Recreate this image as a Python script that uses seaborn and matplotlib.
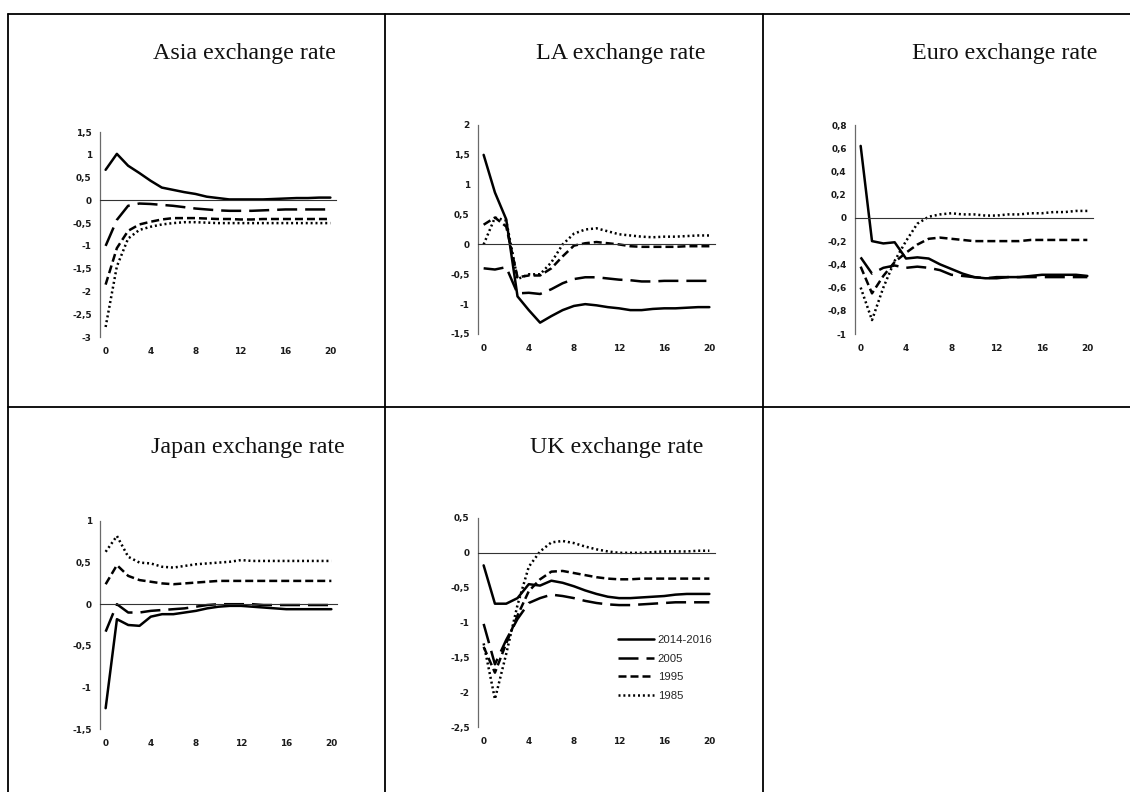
import numpy as np
import pandas as pd
import matplotlib
matplotlib.use("Agg")
import matplotlib.pyplot as plt
from matplotlib.lines import Line2D
from matplotlib.ticker import FuncFormatter
import seaborn as sns

# ---- data: impulse responses over a 0-20 quarter horizon ----
horizon = list(range(21))
vintages = ["2014-2016", "2005", "1995", "1985"]

asia_2014 = [0.67, 1.02, 0.76, 0.60, 0.43, 0.28, 0.23, 0.18, 0.14, 0.08, 0.05,
             0.02, 0.02, 0.02, 0.02, 0.03, 0.04, 0.05, 0.05, 0.06, 0.06]
asia_2005 = [-1.00, -0.43, -0.12, -0.07, -0.08, -0.10, -0.12, -0.15, -0.18, -0.20, -0.22,
             -0.23, -0.23, -0.23, -0.22, -0.21, -0.20, -0.20, -0.20, -0.20, -0.20]
asia_1995 = [-1.85, -1.05, -0.67, -0.53, -0.47, -0.42, -0.39, -0.39, -0.39, -0.40, -0.41,
             -0.41, -0.42, -0.42, -0.41, -0.41, -0.41, -0.41, -0.41, -0.41, -0.41]
asia_1985 = [-2.78, -1.45, -0.84, -0.65, -0.58, -0.53, -0.50, -0.48, -0.48, -0.49, -0.50,
             -0.50, -0.50, -0.50, -0.50, -0.50, -0.50, -0.50, -0.50, -0.50, -0.50]

la_2014 = [1.50, 0.87, 0.42, -0.87, -1.10, -1.31, -1.20, -1.10, -1.03, -1.00, -1.02,
           -1.05, -1.07, -1.10, -1.10, -1.08, -1.07, -1.07, -1.06, -1.05, -1.05]
la_2005 = [-0.40, -0.42, -0.38, -0.82, -0.81, -0.83, -0.75, -0.65, -0.58, -0.55, -0.55,
           -0.57, -0.59, -0.60, -0.62, -0.62, -0.61, -0.61, -0.61, -0.61, -0.61]
la_1995 = [0.33, 0.45, 0.30, -0.55, -0.52, -0.52, -0.40, -0.20, -0.02, 0.02, 0.04,
           0.02, 0.00, -0.03, -0.04, -0.04, -0.04, -0.04, -0.03, -0.03, -0.03]
la_1985 = [0.00, 0.45, 0.40, -0.58, -0.50, -0.50, -0.30, 0.00, 0.18, 0.25, 0.27,
           0.22, 0.17, 0.15, 0.13, 0.12, 0.13, 0.13, 0.14, 0.15, 0.15]

euro_2014 = [0.62, -0.20, -0.22, -0.21, -0.35, -0.34, -0.35, -0.40, -0.44, -0.48, -0.51,
             -0.52, -0.52, -0.51, -0.51, -0.50, -0.49, -0.49, -0.49, -0.49, -0.50]
euro_2005 = [-0.34, -0.48, -0.43, -0.41, -0.43, -0.42, -0.43, -0.45, -0.49, -0.50, -0.51,
             -0.52, -0.51, -0.51, -0.51, -0.51, -0.51, -0.51, -0.51, -0.51, -0.51]
euro_1995 = [-0.42, -0.65, -0.50, -0.38, -0.30, -0.23, -0.18, -0.17, -0.18, -0.19, -0.20,
             -0.20, -0.20, -0.20, -0.20, -0.19, -0.19, -0.19, -0.19, -0.19, -0.19]
euro_1985 = [-0.60, -0.88, -0.60, -0.37, -0.20, -0.05, 0.01, 0.03, 0.04, 0.03, 0.03,
             0.02, 0.02, 0.03, 0.03, 0.04, 0.04, 0.05, 0.05, 0.06, 0.06]

japan_2014 = [-1.25, -0.18, -0.25, -0.26, -0.15, -0.12, -0.12, -0.10, -0.08, -0.05, -0.03,
              -0.02, -0.02, -0.03, -0.04, -0.05, -0.06, -0.06, -0.06, -0.06, -0.06]
japan_2005 = [-0.33, 0.00, -0.10, -0.10, -0.08, -0.07, -0.06, -0.05, -0.03, -0.01, 0.00,
              0.00, 0.00, 0.00, -0.01, -0.01, -0.01, -0.01, -0.01, -0.01, -0.01]
japan_1995 = [0.24, 0.47, 0.34, 0.29, 0.27, 0.25, 0.24, 0.25, 0.26, 0.27, 0.28,
              0.28, 0.28, 0.28, 0.28, 0.28, 0.28, 0.28, 0.28, 0.28, 0.28]
japan_1985 = [0.63, 0.82, 0.57, 0.50, 0.49, 0.45, 0.44, 0.46, 0.48, 0.49, 0.50,
              0.51, 0.53, 0.52, 0.52, 0.52, 0.52, 0.52, 0.52, 0.52, 0.52]

uk_2014 = [-0.18, -0.73, -0.73, -0.65, -0.45, -0.47, -0.40, -0.43, -0.48, -0.54, -0.59,
           -0.63, -0.65, -0.65, -0.64, -0.63, -0.62, -0.60, -0.59, -0.59, -0.59]
uk_2005 = [-1.02, -1.60, -1.25, -0.95, -0.72, -0.65, -0.60, -0.62, -0.65, -0.69, -0.72,
           -0.74, -0.75, -0.75, -0.74, -0.73, -0.72, -0.71, -0.71, -0.71, -0.71]
uk_1995 = [-1.35, -1.72, -1.30, -0.90, -0.55, -0.38, -0.27, -0.26, -0.29, -0.32, -0.35,
           -0.37, -0.38, -0.38, -0.37, -0.37, -0.37, -0.37, -0.37, -0.37, -0.37]
uk_1985 = [-1.30, -2.10, -1.45, -0.75, -0.20, 0.02, 0.15, 0.17, 0.14, 0.09, 0.05,
           0.02, 0.00, 0.00, 0.00, 0.01, 0.02, 0.02, 0.02, 0.03, 0.03]

titles = ["Asia exchange rate", "LA exchange rate", "Euro exchange rate",
          "Japan exchange rate", "UK exchange rate"]
series = [
    [asia_2014, asia_2005, asia_1995, asia_1985],
    [la_2014, la_2005, la_1995, la_1985],
    [euro_2014, euro_2005, euro_1995, euro_1985],
    [japan_2014, japan_2005, japan_1995, japan_1985],
    [uk_2014, uk_2005, uk_1995, uk_1985],
]
y_ranges = [(-3, 1.5, 0.5), (-1.5, 2, 0.5), (-1, 0.8, 0.2), (-1.5, 1, 0.5), (-2.5, 0.5, 0.5)]
x_ticks = [0, 4, 8, 12, 16, 20]

# ---- layout (pixels on a 1130 x 792 canvas) ----
W, H = 1130, 792
# (left, top, right, bottom) of each plotting area
rects = [(100, 132, 336, 337), (478, 125, 715, 334), (855, 125, 1093, 334),
         (100, 521, 337, 729), (478, 518, 715, 727)]
# right end and baseline of each panel heading
title_pos = [(336, 59), (705, 59), (1097, 59), (345, 453), (703, 453)]

LW = 1.8
DASHES = {"2014-2016": "", "2005": (8.0, 3.2), "1995": (3.2, 1.6), "1985": (0.8, 1.15)}
TICK_FONT = {"family": "DejaVu Sans", "weight": "bold", "size": 6.4}

sns.set_style("white")
plt.rcParams["font.family"] = ["DejaVu Sans"]

fig = plt.figure(figsize=(W / 100, H / 100), dpi=100)


def fig_line(x0, y0, x1, y1):
    fig.add_artist(Line2D([x0 / W, x1 / W], [1 - y0 / H, 1 - y1 / H],
                          transform=fig.transFigure, color="black", lw=1.3))


# table grid around the panels
fig_line(8, 14, W, 14)
fig_line(8, 407, W, 407)
fig_line(8, 14, 8, H)
fig_line(385, 14, 385, H)
fig_line(763, 14, 763, H)


def decimal_comma(v, _):
    if abs(v) < 1e-9:
        return "0"
    return ("%g" % round(v, 2)).replace(".", ",")


for title, vals, (ylo, yhi, ystep), (l, t, r, b), (tx, ty) in zip(
        titles, series, y_ranges, rects, title_pos):
    ax = fig.add_axes([l / W, 1 - b / H, (r - l) / W, (b - t) / H])
    df = pd.DataFrame({
        "h": horizon * len(vintages),
        "value": sum(vals, []),
        "vintage": np.repeat(vintages, len(horizon)),
    })
    sns.lineplot(data=df, x="h", y="value", style="vintage", style_order=vintages,
                 dashes=DASHES, color="black", linewidth=LW, errorbar=None,
                 legend=False, ax=ax)
    ax.set_xlim(-0.5, 20.5)
    ax.set_ylim(ylo, yhi)
    yt = np.round(np.arange(ylo, yhi + ystep / 2, ystep), 2)
    ax.set_yticks(yt)
    ax.set_yticklabels([decimal_comma(v, None) for v in yt], fontdict=TICK_FONT,
                       color="#1a1a1a")
    ax.set_xlabel("")
    ax.set_ylabel("")
    ax.patch.set_alpha(0)

    for side in ("top", "right"):
        ax.spines[side].set_visible(False)
    ax.spines["left"].set_color("#6a6a6a")
    ax.spines["left"].set_linewidth(0.9)
    # horizontal axis runs through zero, with small marks between categories
    ax.spines["bottom"].set_position(("data", 0))
    ax.spines["bottom"].set_color("#333333")
    ax.spines["bottom"].set_linewidth(0.8)
    ax.set_xticks([3.5, 7.5, 11.5, 15.5, 19.5])
    ax.tick_params(axis="x", direction="in", length=2.5, width=0.8, color="#555555",
                   labelbottom=False)
    ax.tick_params(axis="y", direction="out", length=3, width=0.8, color="#6a6a6a",
                   pad=3)

    sec = ax.secondary_xaxis("bottom")
    sec.set_xticks(x_ticks)
    sec.set_xticklabels([str(v) for v in x_ticks], fontdict=TICK_FONT, color="#1a1a1a")
    sec.spines["bottom"].set_visible(False)
    sec.tick_params(length=0, pad=7)

    fig.text(tx / W, 1 - ty / H, title, ha="right", va="baseline",
             family="Liberation Serif", fontweight="normal", fontsize=17.3,
             color="#111111")

    if title.startswith("UK"):
        handles = [Line2D([], [], color="black", lw=LW) for _ in vintages]
        for h, v in zip(handles, vintages):
            if DASHES[v]:
                h.set_dashes(DASHES[v])
        ax.legend(handles, vintages, loc="center left",
                  bbox_to_anchor=(618 / W, 1 - 668 / H), bbox_transform=fig.transFigure,
                  frameon=False,
                  prop={"family": "Liberation Sans", "size": 8.2},
                  handlelength=3.2, handletextpad=0.3, labelspacing=0.75,
                  borderpad=0, borderaxespad=0)

fig.savefig("out.png", dpi=100, facecolor="white")
